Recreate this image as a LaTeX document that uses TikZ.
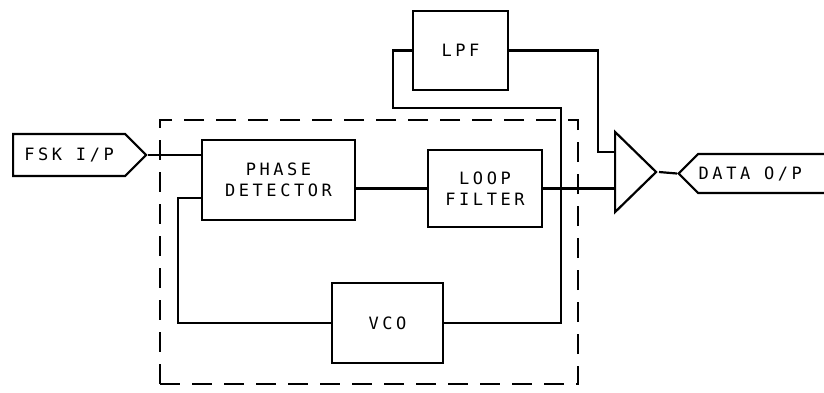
\documentclass[tikz,border=0pt]{standalone}
\usepackage{fontspec}
\newfontfamily\plotfont{DejaVu Sans Mono}[LetterSpace=21]
\usetikzlibrary{shapes.geometric,shapes.symbols,calc}
\tikzset{
  blk/.style={draw,line width=2.2pt,align=center,inner sep=0pt,
              font=\plotfont\fontsize{17}{21}\selectfont},
  tag/.style={signal,draw,line width=2.2pt,signal pointer angle=90,inner sep=0pt,
              font=\plotfont\fontsize{17}{21}\selectfont},
  amp/.style={isosceles triangle,isosceles triangle stretches,draw,line width=2.2pt,inner sep=0pt},
  wire/.style={draw,line width=2.2pt},
  pllbox/.style={draw,line width=2.2pt,dash pattern=on 20pt off 12pt},
}

\begin{document}
\begin{tikzpicture}[x=1pt,y=-1pt]
\useasboundingbox (0,0) rectangle (824,392);
% PLL boundary
\node[pllbox,minimum width=418pt,minimum height=264pt] (pll) at (369,252) {};
% blocks
\node[blk,minimum width=153pt,minimum height=80pt] (pd) at (278.5,180) {PHASE\\DETECTOR};
\node[blk,minimum width=114pt,minimum height=77pt] (lf) at (485,188.5) {LOOP\\FILTER};
\node[blk,minimum width=111pt,minimum height=80pt] (vco) at (387.5,323) {VCO};
\node[blk,minimum width=95pt,minimum height=79pt] (lpf) at (460.5,50.5) {LPF};
\node[amp,minimum width=80pt,minimum height=41pt,anchor=apex] (slicer) at (659,172) {};
% terminals
\node[tag,signal to=east,minimum width=133pt,minimum height=42pt,anchor=west] (fsk) at (12,155) {FSK I/P};
\node[tag,signal to=west,minimum width=170pt,minimum height=39pt,anchor=west] (dout) at (677,173.5) {DATA O/P\hspace*{46pt}};
% loop
\draw[wire] (fsk.east) -- (fsk.east -| pd.west);
\draw[wire] (lf.west -| pd.east) -- (lf.west);
\coordinate (tap) at ($(lf.east)+(18,0)$);
\draw[wire] (lf.east) -- (lf.east -| slicer.lower side);
\draw[wire] (tap) |- ($(lpf.south west)+(-19,17)$) |- (lpf.west);
\draw[wire] (tap) |- (vco.east);
\draw[wire] (vco.west) -| ($(pd.west)+(-23,18)$) -- ($(pd.west)+(0,18)$);
% reference to slicer
\draw[wire] (lpf.east) -| ($(slicer.lower side)+(-16,-20)$) -- ($(slicer.lower side)+(0,-20)$);
\draw[wire] (slicer.apex) -- (dout.west);
\end{tikzpicture}
\end{document}
